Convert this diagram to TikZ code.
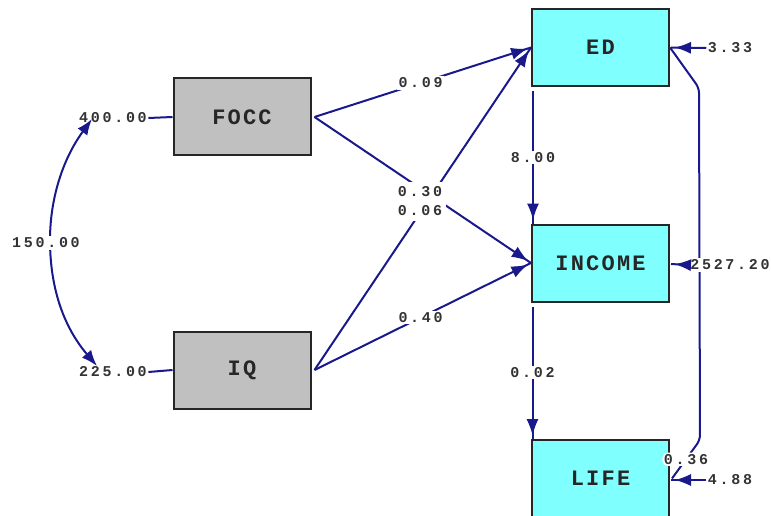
\documentclass[tikz,border=0pt]{standalone}
\usepackage{fontspec}
\newfontfamily\labfont[LetterSpace=18]{Liberation Mono Bold}
\newfontfamily\boxfont[LetterSpace=10]{Liberation Mono Bold}
\usetikzlibrary{arrows.meta,decorations.markings}
\definecolor{pathblue}{RGB}{25,25,140}
\definecolor{exogray}{RGB}{192,192,192}
\definecolor{endocyan}{RGB}{128,255,255}
\tikzset{
  varbox/.style={draw=black!85, line width=2pt, minimum width=137pt, minimum height=77pt, inner sep=0pt, font=\boxfont\fontsize{22}{22}\selectfont, text=black!85},
  exo/.style={varbox, fill=exogray},
  endo/.style={varbox, fill=endocyan},
  lab/.style={font=\labfont\fontsize{15}{15}\selectfont, fill=white, inner sep=1.5pt, text=black!80},
  pathline/.style={draw=pathblue, line width=2pt},
  arr/.style={pathline, postaction={decorate, decoration={markings, mark=at position -4pt with {\arrow[line width=1pt]{Latex[fill=pathblue,length=16pt,width=12pt]}}}}},
  cov/.style={pathline, {Latex[fill=pathblue,length=16pt,width=12pt]}-{Latex[fill=pathblue,length=16pt,width=12pt]}},
}
\begin{document}
\begin{tikzpicture}[x=1pt,y=-1pt]
\useasboundingbox (0,0) rectangle (771,516);
% boxes
\node[exo] (focc) at (242,117) {FOCC};
\node[exo] (iq) at (242,370) {IQ};
\node[endo] (ed) at (600.5,47.5) {ED};
\node[endo] (inc) at (600.5,263) {INCOME};
\node[endo] (life) at (600.5,478.5) {LIFE};
% variance labels of exogenous
\node[lab] (v1) at (113,118) {400.00};
\node[lab] (v2) at (113,372) {225.00};
\draw[pathline] (v1.east) -- (focc.west);
\draw[pathline] (v2.east) -- (iq.west);
% covariance arc
\coordinate (c1) at (92,119);
\coordinate (c2) at (97,366);
\draw[cov] (c1) .. controls (62,160) and (50,200) .. (50,240) .. controls (50,285) and (62,325) .. (c2);
\node[lab] (cv) at (46,243) {150.00};
% structural paths
\draw[arr] ([xshift=3pt]focc.east) -- node[lab,pos=0.49] {0.09} (ed.west);
\draw[arr] ([xshift=3pt]iq.east) -- (ed.west);
\draw[arr] ([xshift=3pt]focc.east) -- (inc.west);
\draw[arr] ([xshift=3pt]iq.east) -- node[lab,pos=0.49] {0.40} (inc.west);
\fill[white] (394,182) rectangle (446,221);
\node[lab, fill=none] (l30) at (420,192) {0.30};
\node[lab, fill=none] (l06) at (420,211) {0.06};
\draw[arr] ([xshift=2pt,yshift=-4pt]ed.south west) -- node[lab,pos=0.5] {8.00} ([xshift=2pt]inc.north west);
\draw[arr] ([xshift=1.5pt,yshift=-4pt]inc.south west) -- node[lab,pos=0.5] {0.02} ([xshift=1.5pt]life.north west);
% ED -> LIFE path
\coordinate (k1) at (699,88);
\coordinate (k2) at (700,440);
\draw[pathline, rounded corners=5pt] (ed.east) -- (k1) -- (k2) -- node[lab,pos=0.5] {0.36} ([xshift=2pt]life.east);
% error variances
\node[lab] (e1) at (730,48) {3.33};
\node[lab] (e2) at (730,265) {2527.20};
\node[lab] (e3) at (730,480) {4.88};
\draw[arr] (e1.west) -- ([xshift=1pt]ed.east);
\draw[arr] (e2.west) -- ([xshift=1pt,yshift=-1pt]inc.east);
\draw[arr] (e3.west) -- ([xshift=1pt,yshift=-1.5pt]life.east);
\end{tikzpicture}
\end{document}
